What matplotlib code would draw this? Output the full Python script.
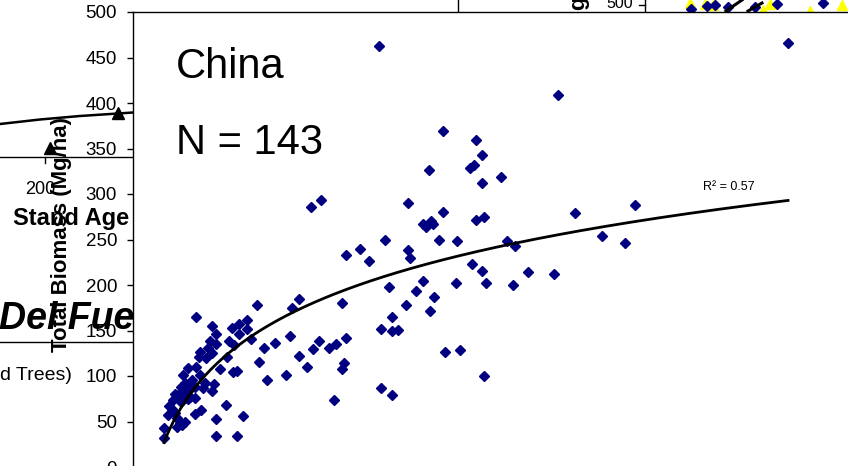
import numpy as np
import matplotlib
matplotlib.use("Agg")
import matplotlib.pyplot as plt

plt.rcParams['font.family'] = ['Liberation Sans', 'DejaVu Sans']

# China stand data: stand age (yr) vs total biomass (Mg/ha)
age = [24.7, 12.5, 15.7, 19.8, 21.1, 22.7, 22.7, 16.6, 21.1, 15.3,
       19.1, 16.6, 20.2, 23.6, 14.9, 15.8, 13.3, 13.2, 14.5, 18.7,
       26.1, 25.2, 10.9, 12.5, 17.3, 19.9, 20.7, 9.9, 13.3, 26.7,
       10.4, 9.5, 10.4, 14.3, 16.2, 12.4, 13.9, 15.7, 8.4, 9.3,
       10.1, 10.9, 11.4, 12.4, 9.5, 10.9, 7.1, 7.7, 8.3, 13.6,
       18.6, 12.4, 8.7, 9.4, 10.4, 8.7, 9.7, 16.6, 21.9, 6.2,
       6.2, 16.6, 20.7,
       35.5, 37.5, 54.9, 61.9, 57.9, 58.5, 59.5, 59.9, 50.4, 61.1,
       64.7, 42.5, 45.4, 47.1, 54.9, 55.4, 57.9, 64.5, 51.2, 56.5,
       60.2, 33.1, 31.8, 41.7, 54.5, 59.4, 51.7, 49.5, 51.7, 52.9,
       31.4, 28.4, 37.2, 35.9, 39.2, 40.5, 42.5, 33.1, 34.7, 42.1,
       41.7, 30.5, 40.1, 49.5, 51.7, 62.4, 65.4,
       49.2, 84.9, 62.0, 68.5, 69.8, 59.1, 67.3, 68.2, 69.8, 73.5,
       68.5, 70.2, 74.7, 76.4, 67.7, 69.8, 70.6, 78.9, 84.2, 76.0,
       70.2, 88.4, 100.4, 93.7, 98.3, 130.9,
       11.4, 10.0, 9.0, 11.8, 10.6, 8.0, 7.0]
biomass = [177.7, 165.2, 155.3, 153.1, 157.1, 161.9, 151.3, 146.2, 146.2, 138.8,
           138.1, 135.5, 134.4, 140.3, 130.4, 125.6, 126.7, 121.2, 119.5, 121.2,
           131.1, 115.7, 108.5, 110.2, 108.0, 104.7, 105.8, 101.1, 101.4, 95.6,
           92.0, 87.6, 84.6, 92.0, 91.2, 87.6, 86.5, 83.5, 80.2, 81.6,
           82.7, 83.8, 76.6, 76.2, 71.8, 74.4, 67.0, 63.4, 59.0, 62.3,
           67.8, 57.9, 53.5, 48.7, 49.8, 43.6, 46.2, 52.7, 56.0, 42.9,
           32.2, 34.4, 34.4,
           286.0, 293.7, 290.4, 279.9, 266.7, 263.4, 270.7, 266.7, 249.1, 249.1,
           248.0, 233.0, 239.9, 226.0, 238.5, 229.3, 204.7, 202.5, 198.1, 193.7,
           187.1, 184.6, 174.4, 180.5, 178.0, 171.8, 164.5, 152.0, 149.8, 150.5,
           144.0, 136.6, 138.1, 130.0, 131.1, 134.8, 141.4, 122.3, 110.2, 114.6,
           107.4, 101.1, 73.6, 86.8, 79.5, 126.4, 128.6,
           462.6, 408.5, 368.9, 359.0, 342.5, 326.0, 328.9, 331.9, 311.8, 319.0,
           271.4, 274.4, 248.0, 242.9, 222.7, 215.7, 201.9, 214.6, 212.4, 200.0,
           100.0, 279.1, 288.2, 254.2, 246.5, 466.3,
           90.1, 79.1, 75.8, 95.6, 80.2, 73.6, 57.1]

# logarithmic trendline: y = a ln(x) + b
trend_a = 87.2
trend_b = -132.2
trend_start, trend_end = 6.2, 131.0
r2_label = "R² = 0.57"

y_ticks = list(range(0, 501, 50))

# fragments of the neighbouring charts (pixel space of the page)
left_line_x = [0, 40, 80, 118, 133]
left_line_y = [124, 119.5, 116, 113.5, 112.5]
left_tri_x = [118, 50]
left_tri_y = [113, 148]
strip_tri_x = [690, 705, 713, 770, 763, 810, 842]
strip_tri_y = [3, 3.5, 4.5, 3.5, 9.5, 10.5, 5]
strip_dia_x = [691, 707, 715, 728, 755, 777, 823]
strip_dia_y = [9, 6, 5, 7, 7, 4, 3]

W, H = 848, 466
fig = plt.figure(figsize=(W / 100, H / 100), dpi=100)

# background page with the cut-off neighbouring charts
bg = fig.add_axes([0, 0, 1, 1], zorder=0)
bg.set_xlim(0, W)
bg.set_ylim(H, 0)
bg.axis("off")
bg.plot(left_line_x, left_line_y, color="black", lw=1.8)
bg.plot(left_tri_x, left_tri_y, ls="none", marker="^", ms=8, color="black")
bg.plot([0, 133], [157.3, 157.3], color="black", lw=1)
bg.plot([45, 45], [157.3, 163], color="black", lw=1)
bg.plot([0, 133], [342, 342], color="black", lw=1)
bg.text(40, 189, "200", fontsize=13, ha="center", va="center")
bg.text(13, 218, "Stand Age", fontsize=17, fontweight="bold", ha="left", va="center")
bg.text(62, 235, "Total Biomass (Mg/ha)", fontsize=16, fontweight="bold",
        rotation=90, ha="center", va="center")
bg.text(-1, 329, "Del Fuego", fontsize=27, fontweight="bold", fontstyle="italic",
        ha="left", va="baseline")
bg.text(0, 376, "d Trees)", fontsize=14, ha="left", va="center")

bg.plot([458, 458], [0, 12], color="black", lw=1)
bg.text(579, 3, "g", fontsize=16, fontweight="bold", rotation=90, ha="center", va="center")
bg.text(633, 4, "500", fontsize=11.5, ha="right", va="center")
bg.plot([639, 645], [5, 5], color="black", lw=1)
bg.plot([645, 645], [0, 12], color="black", lw=1)
bg.plot(strip_tri_x, strip_tri_y, ls="none", marker="^", ms=7, color="yellow")
bg.plot(strip_dia_x, strip_dia_y, ls="none", marker="D", ms=4.6, color="#000080")
bg.plot([726, 742], [11, 0], color="black", lw=2.2)
bg.plot([748, 762], [11, 3], color="black", lw=2.2)

# main China chart
left = 133 / W
bottom = (H - 467) / H
top = (H - 12) / H
ax = fig.add_axes([left, bottom, 1 - left, top - bottom], zorder=1)
ax.set_facecolor("white")
ax.set_xlim(0, 143)
ax.set_ylim(0, 500)

ax.plot(age, biomass, ls="none", marker="D", ms=4.6, color="#000080", mec="#000080")

tx = np.linspace(trend_start, trend_end, 200)
ax.plot(tx, trend_a * np.log(tx) + trend_b, color="black", lw=2.0)

ax.set_yticks(y_ticks)
ax.set_xticks([])
ax.tick_params(axis="y", direction="out", length=4.5, width=1, pad=7, labelsize=13.5)
for side in ("right", "bottom"):
    ax.spines[side].set_visible(False)
for side in ("left", "top"):
    ax.spines[side].set_linewidth(1)

ax.text(8.6, 440, "China", fontsize=30, ha="left", va="center")
ax.text(8.6, 356, "N = 143", fontsize=30, ha="left", va="center")
ax.text(114, 308, r2_label, fontsize=9, ha="left", va="center")

fig.savefig("out.png", dpi=100)
